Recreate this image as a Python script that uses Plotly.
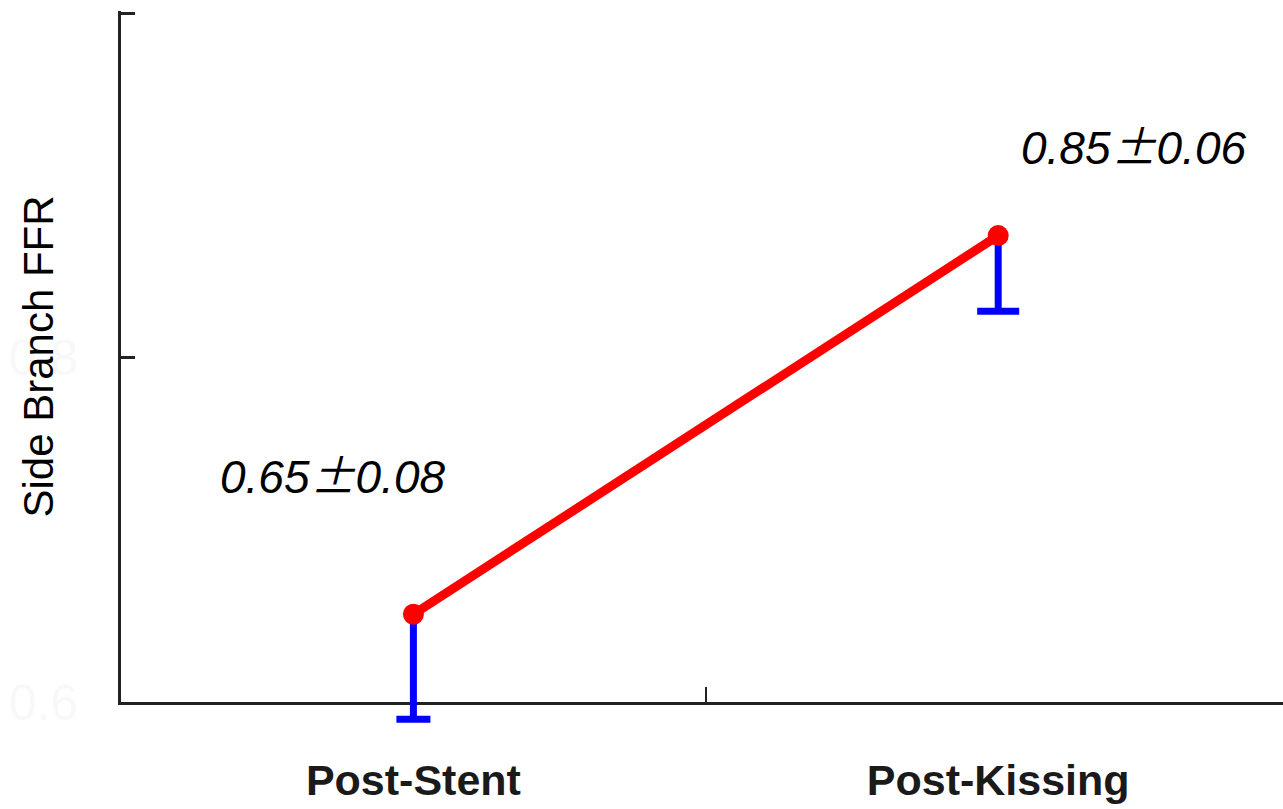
import plotly.graph_objects as go

categories = ["Post-Stent", "Post-Kissing"]
ffr_mean = [0.651, 0.871]
ffr_err_minus = [0.061, 0.044]
mean_labels = ["0.65±0.08", "0.85±0.06"]
y_tickvals = [0.6, 0.8, 1.0]
y_ticktext = ["0.6", "0.8", "1.0"]

lower = [m - e for m, e in zip(ffr_mean, ffr_err_minus)]
cap_halfwidth = [17, 21]

SANS = "Liberation Sans, Arial, sans-serif"

# geometry: visible y axis covers [0.6, 1.0]; traces live on a twin axis with
# identical scale that extends a little lower so the error caps below 0.6 show
H, T, B = 809, 11, 70
plot_h = H - T - B
y_lo, y_hi = 0.6, 1.0015
ext_px = 37
d = ext_px / plot_h
y2_lo = y_lo - (y_hi - y_lo) * ext_px / (plot_h - ext_px)

fig = go.Figure()

# error bar stems (downward only)
fig.add_trace(go.Scatter(
    x=categories, y=lower, mode="markers", xaxis="x", yaxis="y2",
    marker=dict(size=1, opacity=0),
    error_y=dict(type="data", symmetric=False, array=ffr_err_minus,
                 arrayminus=[0, 0], width=0, thickness=7, color="#0000ff"),
    showlegend=False, hoverinfo="skip",
))
# error bar caps
for cat, lo, hw in zip(categories, lower, cap_halfwidth):
    fig.add_trace(go.Scatter(
        x=[cat], y=[lo], mode="markers", xaxis="x", yaxis="y2",
        marker=dict(size=1, opacity=0),
        error_y=dict(type="data", array=[0], width=hw, thickness=7, color="#0000ff"),
        showlegend=False, hoverinfo="skip",
    ))

fig.add_trace(go.Scatter(
    x=categories, y=ffr_mean, mode="lines+markers", xaxis="x", yaxis="y2",
    line=dict(color="#ff0000", width=9),
    marker=dict(color="#ff0000", size=21),
    showlegend=False,
))

pm = "<span style='font-family:Noto Sans CJK SC'>±</span>"
ann_pos = [(-0.1385, 0.7328), (1.231, 0.924)]
for lab, (ax, ay) in zip(mean_labels, ann_pos):
    fig.add_annotation(
        x=ax, y=ay, xref="x", yref="y", showarrow=False,
        text="<i>" + lab.replace("±", pm) + "</i>",
        font=dict(family=SANS, size=46, color="#000000"),
        xanchor="center", yanchor="middle",
    )

fig.add_annotation(
    x=-0.0714, y=0.5, xref="paper", yref="y domain", showarrow=False,
    text="Side Branch FFR", textangle=-90,
    font=dict(family=SANS, size=42, color="#000000"),
    xanchor="center", yanchor="middle",
)

fig.update_layout(
    width=1283, height=H,
    template="none",
    paper_bgcolor="#ffffff", plot_bgcolor="rgba(0,0,0,0)",
    margin=dict(l=121, r=0, t=T, b=B),
    showlegend=False,
    xaxis=dict(
        type="category", range=[-0.5, 1.487], automargin=False, anchor="y",
        showline=True, linecolor="#222222", linewidth=3,
        showgrid=False, zeroline=False,
        ticks="inside", tickson="boundaries", ticklen=15, tickwidth=2, tickcolor="#222222",
        tickfont=dict(family=SANS, size=43, color="#1a1a1a", weight="bold"),
        ticklabelstandoff=38,
    ),
    yaxis=dict(
        range=[y_lo, y_hi], domain=[d, 1], automargin=False, anchor="x",
        showline=True, linecolor="#222222", linewidth=2.5,
        showgrid=False, zeroline=False,
        tickvals=y_tickvals, ticktext=y_ticktext,
        ticks="inside", ticklen=14, tickwidth=3, tickcolor="#222222",
        tickfont=dict(family=SANS, size=50, color="#f8f8f8"),
        ticklabelstandoff=30,
    ),
    yaxis2=dict(
        range=[y2_lo, y_hi], domain=[0, 1], anchor="x", visible=False,
        showgrid=False, zeroline=False, automargin=False,
    ),
)

fig.write_html("out.html", config={"displayModeBar": False},
               post_script="document.body.style.margin='0';")
